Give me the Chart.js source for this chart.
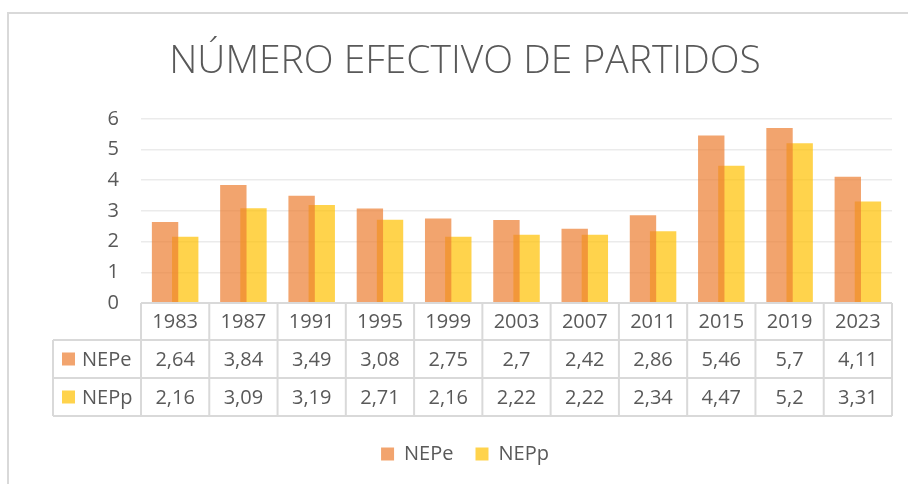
<!DOCTYPE html>
<html lang="es">
<head>
  <meta charset="UTF-8" />
  <title>Número efectivo de partidos</title>
  <script src="https://cdn.jsdelivr.net/npm/chart.js"></script>
  <style>
    html, body { margin: 0; padding: 0; background: #fff; }
    #wrap { width: 908px; height: 484px; }
  </style>
</head>
<body>
  <div id="wrap"><canvas id="nepChart" width="908" height="484"></canvas></div>

  <script>
    const years = ["1983", "1987", "1991", "1995", "1999", "2003", "2007", "2011", "2015", "2019", "2023"];
    const nepe = [2.64, 3.84, 3.49, 3.08, 2.75, 2.7, 2.42, 2.86, 5.46, 5.7, 4.11];
    const nepp = [2.16, 3.09, 3.19, 2.71, 2.16, 2.22, 2.22, 2.34, 4.47, 5.2, 3.31];
    const seriesNames = ["NEPe", "NEPp"];

    const orange = "rgba(237,125,49,0.7)";
    const yellow = "rgba(255,192,0,0.7)";
    const textGray = "#595959";
    const lineGray = "#d9d9d9";
    const font = "'Open Sans', sans-serif";

    // outer frame of the chart object
    const framePlugin = {
      id: "frame",
      beforeDraw(chart) {
        const ctx = chart.ctx;
        ctx.save();
        ctx.strokeStyle = "#d9d9d9";
        ctx.lineWidth = 2;
        ctx.beginPath();
        ctx.moveTo(8, 484);
        ctx.lineTo(8, 13);
        ctx.lineTo(908, 13);
        ctx.stroke();
        ctx.restore();
      }
    };

    // Excel-style data table under the plot
    const tablePlugin = {
      id: "dataTable",
      afterDraw(chart) {
        const ctx = chart.ctx;
        const x = chart.scales.x;
        const top = chart.chartArea.bottom;
        const colW = (x.right - x.left) / years.length;
        const rows = [top, top + 37, top + 75, top + 113];
        const labelLeft = 53;

        ctx.save();
        ctx.strokeStyle = lineGray;
        ctx.lineWidth = 2;
        ctx.beginPath();
        // horizontal lines
        ctx.moveTo(x.left, rows[0]); ctx.lineTo(x.right, rows[0]);
        for (let r = 1; r < rows.length; r++) {
          ctx.moveTo(labelLeft, rows[r]); ctx.lineTo(x.right, rows[r]);
        }
        // vertical lines
        ctx.moveTo(labelLeft, rows[1]); ctx.lineTo(labelLeft, rows[3]);
        for (let i = 0; i <= years.length; i++) {
          const xx = x.left + i * colW;
          ctx.moveTo(xx, rows[0]); ctx.lineTo(xx, rows[3]);
        }
        ctx.stroke();

        ctx.fillStyle = textGray;
        ctx.font = "20px " + font;
        ctx.textAlign = "center";
        ctx.textBaseline = "middle";
        const fmt = v => String(v).replace(".", ",");
        years.forEach((yr, i) => {
          const cx = x.getPixelForValue(i);
          ctx.fillText(yr, cx, (rows[0] + rows[1]) / 2 + 1);
          ctx.fillText(fmt(nepe[i]), cx, (rows[1] + rows[2]) / 2 + 1);
          ctx.fillText(fmt(nepp[i]), cx, (rows[2] + rows[3]) / 2 + 1);
        });

        // row headers with legend keys
        const keys = [orange, yellow];
        seriesNames.forEach((name, r) => {
          const cy = (rows[r + 1] + rows[r + 2]) / 2;
          ctx.fillStyle = keys[r];
          ctx.fillRect(62, cy - 6.5, 13, 13);
          ctx.fillStyle = textGray;
          ctx.textAlign = "left";
          ctx.fillText(name, 82, cy + 1);
        });
        ctx.restore();
      }
    };

    new Chart(document.getElementById("nepChart"), {
      type: "bar",
      data: {
        labels: years,
        datasets: [
          { label: seriesNames[0], data: nepe, backgroundColor: orange },
          { label: seriesNames[1], data: nepp, backgroundColor: yellow }
        ]
      },
      options: {
        responsive: false,
        animation: false,
        categoryPercentage: 0.59,
        barPercentage: 1.31,
        layout: { padding: { top: 30, right: 16, bottom: 10, left: 38 } },
        plugins: {
          title: {
            display: true,
            text: "NÚMERO EFECTIVO DE PARTIDOS",
            color: textGray,
            font: { family: font, size: 39, weight: "300" },
            padding: { top: 8, bottom: 34 }
          },
          legend: {
            position: "bottom",
            labels: {
              color: textGray,
              font: { family: font, size: 20 },
              boxWidth: 13,
              boxHeight: 13,
              padding: 22
            }
          },
          tooltip: { enabled: false }
        },
        scales: {
          x: {
            grid: { display: false },
            border: { display: false },
            ticks: { display: false },
            afterFit(scale) { scale.height = 119; }
          },
          y: {
            min: 0,
            max: 6,
            ticks: {
              stepSize: 1,
              color: textGray,
              font: { family: font, size: 20 },
              padding: 22
            },
            grid: { color: "#ebebeb", lineWidth: 1.5, drawTicks: false },
            border: { display: false },
            afterFit(scale) { scale.width = 103; }
          }
        }
      },
      plugins: [framePlugin, tablePlugin]
    });
  </script>
</body>
</html>
